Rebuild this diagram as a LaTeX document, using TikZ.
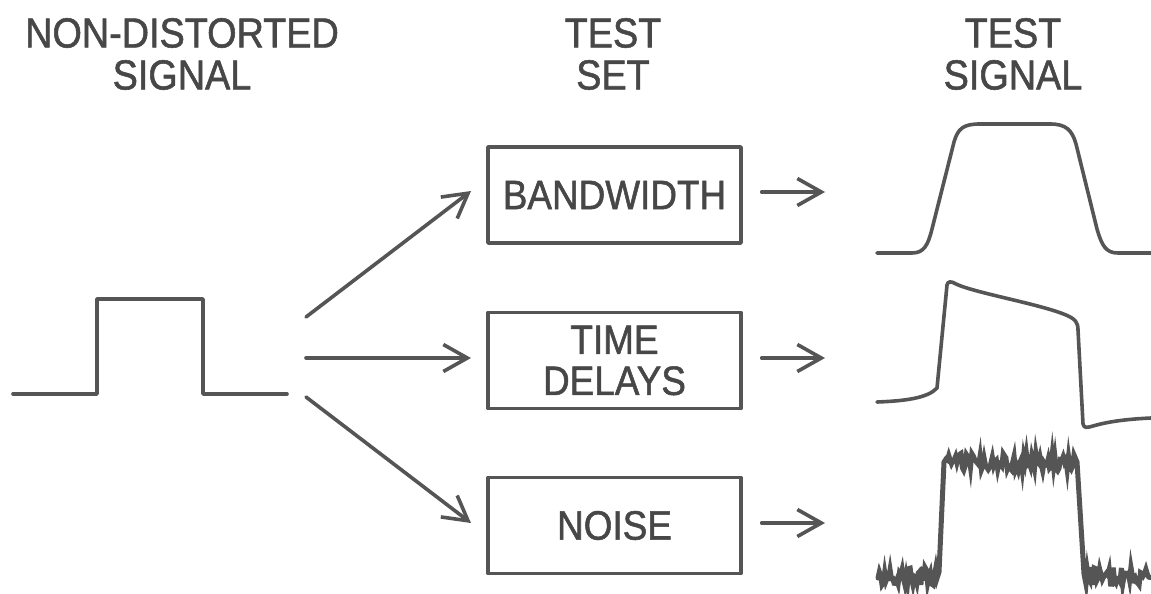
\documentclass[tikz,border=0pt]{standalone}
\usepackage{fontspec}
\setmainfont{Liberation Sans}[FakeStretch=0.9,FakeBold=1.3]
\usetikzlibrary{arrows.meta}
\definecolor{ink}{HTML}{555555}
\definecolor{txt}{HTML}{474747}
\begin{document}
\begin{tikzpicture}[x=1pt,y=-1pt,
  line cap=round, line join=round,
  wire/.style={draw=ink, line width=3.6pt},
  arr/.style={wire, -{Straight Barb[length=24pt,width=27pt,line width=3.6pt]}},
  boxnode/.style={draw=ink, line width=3.4pt, minimum width=253pt, minimum height=96pt, inner sep=0pt, text=txt, font=\fontsize{41}{41}\selectfont, align=center},
  head/.style={text=txt, font=\fontsize{42}{42}\selectfont, align=center, inner sep=0pt}]
\useasboundingbox (0,0) rectangle (1151,594);
\fill[white] (0,0) rectangle (1151,594);
% headers
\node[head] (h1) at (182,54) {NON-DISTORTED\\SIGNAL};
\node[head] (h2) at (613,54) {TEST\\SET};
\node[head] (h3) at (1013,54) {TEST\\SIGNAL};
% boxes
\node[boxnode] (bw) at (614.5,195) {BANDWIDTH};
\node[boxnode] (td) at (614.5,360.5) {TIME\\DELAYS};
\node[boxnode] (ns) at (614.5,525.5) {NOISE};
% input pulse
\draw[wire] (13,394) -- (97,394) -- (97,299) -- (203,299) -- (203,394) -- (287,394);
% fan-out arrows
\coordinate (s1) at (306,317);
\coordinate (s2) at (306,358);
\coordinate (s3) at (306,397);
\draw[arr] (s1) -- (471,191);
\draw[arr] (s2) -- (471,358);
\draw[arr] (s3) -- (471,523);
% output arrows
\coordinate (o1) at (825,192);
\coordinate (o2) at (825,358);
\coordinate (o3) at (825,523);
\draw[arr] (bw.east) ++(19,-3) -- (o1);
\draw[arr] (td.east) ++(19,-2.5) -- (o2);
\draw[arr] (ns.east) ++(19,-2.5) -- (o3);
% bandwidth-limited signal
\draw[wire] (877,253) -- (912,253) .. controls (924,253) and (928,245) .. (932,229)
  -- (954,142) .. controls (958,128) and (964,124) .. (980,124) -- (1050,124)
  .. controls (1066,124) and (1072,130) .. (1076,144) -- (1097,229)
  .. controls (1102,246) and (1106,253) .. (1118,253) -- (1151,253);
% time-delayed signal
\draw[wire] (877,402) .. controls (905,401) and (928,398) .. (937,388) -- (947,285)
  .. controls (948,281) and (951,281) .. (956,284)
  .. controls (975,293) and (1040,304) .. (1066,315)
  .. controls (1075,319) and (1078,322) .. (1078,330) -- (1083,424)
  .. controls (1084,428) and (1086,428) .. (1093,426)
  .. controls (1110,421) and (1130,419) .. (1151,418);
% noisy signal
\pgfmathsetseed{7}
\draw[draw=ink, line width=5pt, line join=miter]
  plot[domain=878:937, samples=45] (\x,{576+9*rand})
  -- (939,572) -- (944,462)
  -- plot[domain=946:1074, samples=95] (\x,{462+9*rand})
  -- (1077,462) -- (1084,574)
  -- plot[domain=1086:1150, samples=48] (\x,{576+9*rand});
\end{tikzpicture}
\end{document}
